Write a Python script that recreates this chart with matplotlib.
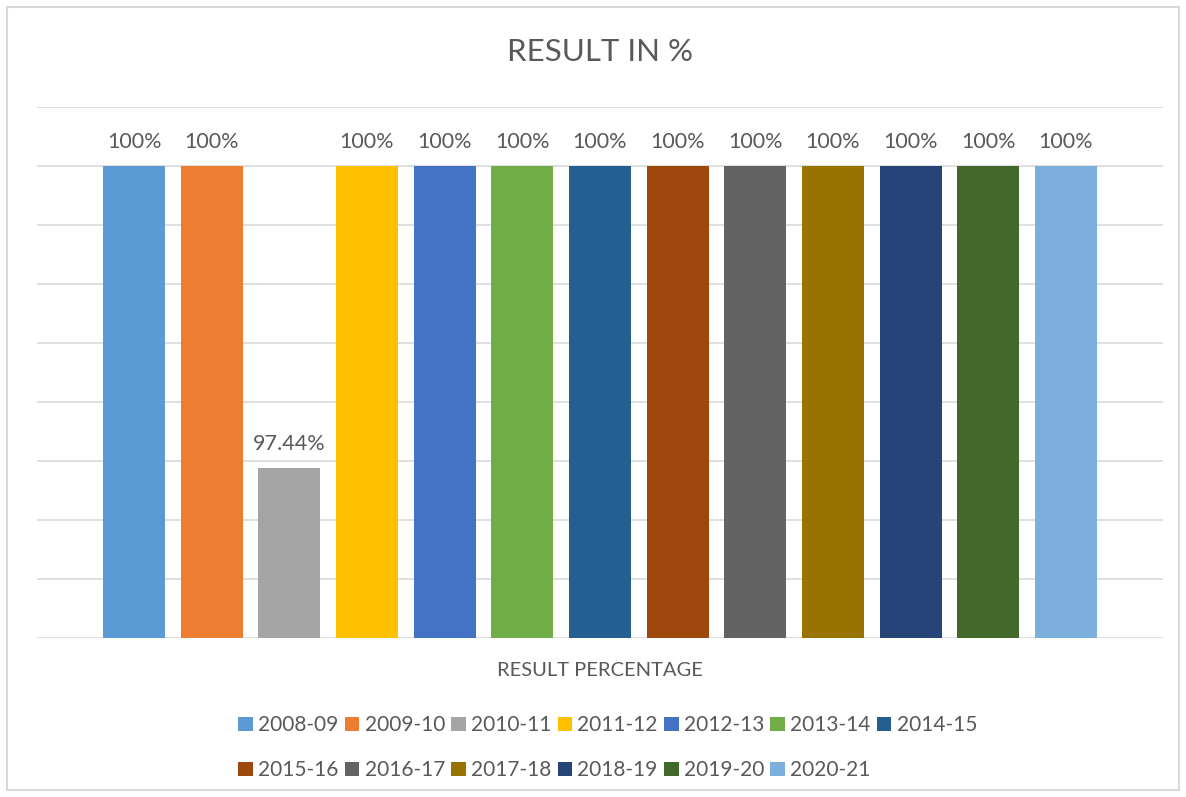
import matplotlib.pyplot as plt
from matplotlib.patches import Rectangle

# data
years = ['2008-09', '2009-10', '2010-11', '2011-12', '2012-13', '2013-14', '2014-15',
         '2015-16', '2016-17', '2017-18', '2018-19', '2019-20', '2020-21']
results = [100, 100, 97.44, 100, 100, 100, 100, 100, 100, 100, 100, 100, 100]
labels = ['100%', '100%', '97.44%', '100%', '100%', '100%', '100%',
          '100%', '100%', '100%', '100%', '100%', '100%']
colors = ['#5B9BD5', '#ED7D31', '#A5A5A5', '#FFC000', '#4472C4', '#70AD47', '#255E91',
          '#9E480E', '#636363', '#997300', '#264478', '#43682B', '#7CAFDD']

plt.rcParams['font.family'] = ['Lato', 'DejaVu Sans']
txt = '#595959'

fig = plt.figure(figsize=(11.86, 7.97), dpi=100)
ax = fig.add_axes([37 / 1186, 1 - 638 / 797, (1163 - 37) / 1186, (638 - 107) / 797])

bars = []
for i, (yr, v, lab, c) in enumerate(zip(years, results, labels, colors)):
    b = ax.bar(i, v - 96, bottom=96, width=0.8, color=c, label=yr, zorder=2)
    bars.append(b)
    ax.text(i, v + 0.12, lab, ha='center', va='bottom', fontsize=15.5, color=txt)

ax.set_xlim(-1.25, 13.25)
ax.set_ylim(96, 100.5)
ax.set_yticks([96 + 0.5 * k for k in range(10)])
ax.yaxis.grid(True, color='#d9d9d9', linewidth=1.2, zorder=0)
ax.tick_params(left=False, labelleft=False, bottom=False, labelbottom=False)
for s in ax.spines.values():
    s.set_visible(False)

fig.text(600 / 1186, 1 - 52 / 797, 'RESULT IN %', ha='center', va='center', fontsize=22.5, color=txt)
fig.text(600 / 1186, 1 - 670 / 797, 'RESULT PERCENTAGE', ha='center', va='center', fontsize=14.5, color=txt)

# legend filled row by row
ncol = 7
order = []
for c in range(ncol):
    order += [k for k in (c, c + ncol) if k < len(years)]
fig.legend([bars[k] for k in order], [years[k] for k in order],
           loc='upper left', bbox_to_anchor=(230 / 1186, 1 - 707 / 797), ncol=ncol, frameon=False,
           fontsize=15, labelcolor=txt, handlelength=0.7, handleheight=0.7,
           handletextpad=0.25, columnspacing=0.3, labelspacing=1.2, borderaxespad=0)

fig.patches.append(Rectangle((7 / 1186, 1 - 790 / 797), 1172 / 1186, 783 / 797,
                             transform=fig.transFigure, fill=False, edgecolor='#d9d9d9', linewidth=1.5))

fig.savefig('out.png', dpi=100)
